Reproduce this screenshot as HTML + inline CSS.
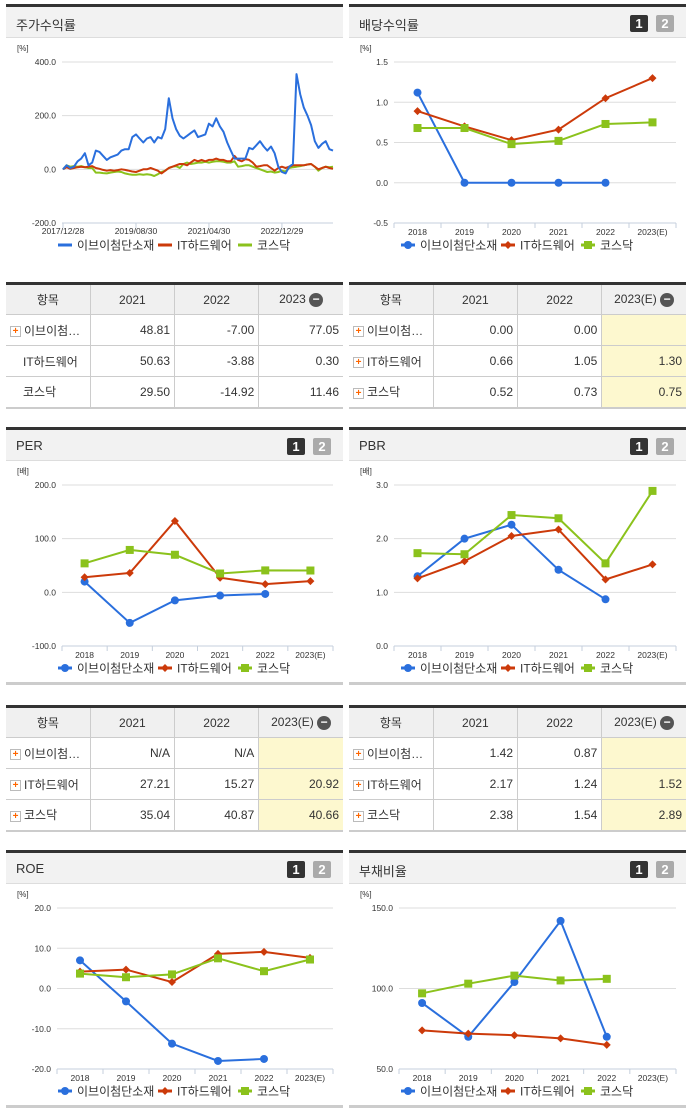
<!DOCTYPE html>
<html><head><meta charset="utf-8">
<style>
body{margin:0;background:#fff;width:691px;height:1115px;overflow:hidden;position:relative;font-family:"Liberation Sans","Noto Sans CJK KR",sans-serif;}
.panel{position:absolute;width:337px;height:262px;}
.phead{position:absolute;left:0;top:0;width:337px;height:30px;background:#f2f2f2;border-top:3px solid #333;border-bottom:1px solid #ddd;}
.ptitle{position:absolute;left:10px;top:8px;font-size:13px;color:#333;}
.btn{position:absolute;top:8px;width:18px;height:17px;color:#fff;font-weight:bold;font-size:13px;text-align:center;line-height:17px;border-radius:2px;}
.b1{right:38px;background:#333;}
.b2{right:12px;background:#aaa;}
.pbot{position:absolute;left:0;top:255px;width:337px;height:3px;background:#ccc;}
svg{position:absolute;left:0;top:0;}
table{position:absolute;width:337px;border-collapse:collapse;font-size:12px;color:#333;table-layout:fixed;border-top:3px solid #333;border-bottom:2px solid #ccc;}
th{background:#f0f0f0;font-weight:normal;height:31px;padding:0;border:1px solid #ccc;border-top:none;box-sizing:border-box;}
td{height:31px;padding:0 4px 0 0;border:1px solid #ccc;text-align:right;box-sizing:border-box;}
th:first-child,td:first-child{border-left:none;}
th:last-child,td:last-child{border-right:none;}
td.nm{text-align:left;padding-left:4px;}
td.y{background:#fdf8cf;}
.plus{display:inline-block;width:9px;height:9px;border:1px solid #bbb;background:#fff;color:#f60;font-size:10px;line-height:9px;text-align:center;font-weight:bold;vertical-align:middle;margin-right:3px;}
.minus{display:inline-block;width:14px;height:14px;border-radius:7px;background:#555;color:#fff;font-size:12px;line-height:13px;text-align:center;font-weight:bold;vertical-align:middle;}
</style></head><body>

<div class="panel" id="p1" style="left:6px;top:4px"><div class="phead"><span class="ptitle">주가수익률</span></div></div>
<div class="panel" id="p2" style="left:349px;top:4px"><div class="phead"><span class="ptitle">배당수익률</span><span class="btn b1">1</span><span class="btn b2">2</span></div></div>
<div class="panel" id="p3" style="left:6px;top:427px"><div class="phead"><span class="ptitle">PER</span><span class="btn b1">1</span><span class="btn b2">2</span></div><div class="pbot"></div></div>
<div class="panel" id="p4" style="left:349px;top:427px"><div class="phead"><span class="ptitle">PBR</span><span class="btn b1">1</span><span class="btn b2">2</span></div><div class="pbot"></div></div>
<div class="panel" id="p5" style="left:6px;top:850px"><div class="phead"><span class="ptitle">ROE</span><span class="btn b1">1</span><span class="btn b2">2</span></div><div class="pbot"></div></div>
<div class="panel" id="p6" style="left:349px;top:850px"><div class="phead"><span class="ptitle">부채비율</span><span class="btn b1">1</span><span class="btn b2">2</span></div><div class="pbot"></div></div>

<table style="left:6px;top:282px">
<tr><th>항목</th><th>2021</th><th>2022</th><th>2023 <span class="minus">−</span></th></tr>
<tr><td class="nm"><span class="plus">+</span>이브이첨…</td><td>48.81</td><td>-7.00</td><td>77.05</td></tr>
<tr><td class="nm" style="padding-left:17px">IT하드웨어</td><td>50.63</td><td>-3.88</td><td>0.30</td></tr>
<tr><td class="nm" style="padding-left:17px">코스닥</td><td>29.50</td><td>-14.92</td><td>11.46</td></tr>
</table>
<table style="left:349px;top:282px">
<tr><th>항목</th><th>2021</th><th>2022</th><th>2023(E) <span class="minus">−</span></th></tr>
<tr><td class="nm"><span class="plus">+</span>이브이첨…</td><td>0.00</td><td>0.00</td><td class="y"></td></tr>
<tr><td class="nm"><span class="plus">+</span>IT하드웨어</td><td>0.66</td><td>1.05</td><td class="y">1.30</td></tr>
<tr><td class="nm"><span class="plus">+</span>코스닥</td><td>0.52</td><td>0.73</td><td class="y">0.75</td></tr>
</table>
<table style="left:6px;top:705px">
<tr><th>항목</th><th>2021</th><th>2022</th><th>2023(E) <span class="minus">−</span></th></tr>
<tr><td class="nm"><span class="plus">+</span>이브이첨…</td><td>N/A</td><td>N/A</td><td class="y"></td></tr>
<tr><td class="nm"><span class="plus">+</span>IT하드웨어</td><td>27.21</td><td>15.27</td><td class="y">20.92</td></tr>
<tr><td class="nm"><span class="plus">+</span>코스닥</td><td>35.04</td><td>40.87</td><td class="y">40.66</td></tr>
</table>
<table style="left:349px;top:705px">
<tr><th>항목</th><th>2021</th><th>2022</th><th>2023(E) <span class="minus">−</span></th></tr>
<tr><td class="nm"><span class="plus">+</span>이브이첨…</td><td>1.42</td><td>0.87</td><td class="y"></td></tr>
<tr><td class="nm"><span class="plus">+</span>IT하드웨어</td><td>2.17</td><td>1.24</td><td class="y">1.52</td></tr>
<tr><td class="nm"><span class="plus">+</span>코스닥</td><td>2.38</td><td>1.54</td><td class="y">2.89</td></tr>
</table>

<script>
const NS="http://www.w3.org/2000/svg";
const seriesNames=["이브이첨단소재","IT하드웨어","코스닥"];
const colors=["#2a6fdd","#cc3a0a","#8bc21c"];
const years=["2018","2019","2020","2021","2022","2023(E)"];
// stock return (monthly)
const stockTickLabels=["2017/12/28","2019/08/30","2021/04/30","2022/12/29"];
const stockTickIdx=[0,20,40,60];
const stockTicks=[400,200,0,-200];
const stockBlue=[0,15,5,10,30,40,60,15,25,70,65,50,35,45,50,55,70,75,75,120,130,115,100,115,120,100,120,115,150,265,190,150,125,115,125,135,145,120,125,130,170,160,190,160,140,100,70,40,40,40,40,80,75,90,105,85,70,85,60,10,-10,-15,10,20,355,280,230,200,165,105,80,95,105,75,70];
const stockRed=[0,8,2,5,8,10,8,10,12,5,2,-2,-5,-3,-5,-3,0,-2,-5,-8,-10,-5,0,0,5,0,-5,-15,-5,5,10,15,20,20,15,25,35,30,35,30,35,35,40,35,35,30,30,50,35,30,38,35,25,10,12,15,15,5,-5,5,10,5,10,15,15,15,15,18,20,10,0,5,10,5,2];
const stockGreen=[0,15,10,12,10,12,8,5,5,-12,-12,-14,-15,-12,-10,-8,-10,-15,-18,-20,-20,-18,-20,-18,-20,-25,-18,-10,-5,5,10,12,5,20,25,20,22,25,25,28,25,28,30,30,28,25,25,30,10,12,15,15,10,5,0,-5,-10,-8,-12,-10,-5,-8,5,8,10,12,15,18,20,10,-5,5,10,8,10];
// dividend yield
const divTicks=[1.5,1.0,0.5,0.0,-0.5];
const divBlue=[1.12,0,0,0,0,null];
const divRed=[0.89,0.70,0.53,0.66,1.05,1.30];
const divGreen=[0.68,0.68,0.48,0.52,0.73,0.75];
// PER
const perTicks=[200,100,0,-100];
const perBlue=[20,-57,-15,-6,-3,null];
const perRed=[28,36,133,27.21,15.27,20.92];
const perGreen=[54,79,70,35.04,40.87,40.66];
// PBR
const pbrTicks=[3,2,1,0];
const pbrBlue=[1.3,2.0,2.26,1.42,0.87,null];
const pbrRed=[1.26,1.58,2.05,2.17,1.24,1.52];
const pbrGreen=[1.73,1.71,2.44,2.38,1.54,2.89];
// ROE
const roeTicks=[20,10,0,-10,-20];
const roeBlue=[7,-3.2,-13.7,-18,-17.5,null];
const roeRed=[4.2,4.7,1.6,8.6,9.1,7.6];
const roeGreen=[3.7,2.8,3.5,7.5,4.3,7.2];
// debt ratio
const debtTicks=[150,100,50];
const debtBlue=[91,70,104,142,70,null];
const debtRed=[74,72,71,69,65,null];
const debtGreen=[97,103,108,105,106,null];

function el(tag,attrs,parent){const e=document.createElementNS(NS,tag);for(const k in attrs)e.setAttribute(k,attrs[k]);if(parent)parent.appendChild(e);return e;}
const TOP=58,BOT=219;

function makeSvg(panelId,unit){
  const p=document.getElementById(panelId);
  const s=el("svg",{width:337,height:262});
  p.insertBefore(s,p.firstChild.nextSibling);
  const u=el("text",{x:11,y:47,"font-size":8,fill:"#333"},s);u.textContent=unit;
  
  
  return s;
}
function yAxis(s,ticks,left,right){
  const max=ticks[0],min=ticks[ticks.length-1];
  const ys=v=>TOP+(max-v)/(max-min)*(BOT-TOP);
  ticks.forEach((t,i)=>{
    const y=ys(t);
    const last=i===ticks.length-1;
    const ln=el("line",{x1:left,x2:right,y1:y,y2:y,stroke:last?"#c5cfdc":"#ddd","stroke-width":1},s);
    
    
    const tx=el("text",{x:left-6,y:y+3,"font-size":8.5,fill:"#333","text-anchor":"end"},s);
    tx.textContent=t.toFixed(1);
    
    
  });
  return ys;
}
function marker(s,k,x,y){
  let m;
  if(k===0)m=el("circle",{cx:x,cy:y,r:4,fill:colors[0]},s);
  else if(k===1)m=el("polygon",{points:`${x},${y-4} ${x+4},${y} ${x},${y+4} ${x-4},${y}`,fill:colors[1]},s);
  else m=el("rect",{x:x-4,y:y-4,width:8,height:8,fill:colors[2]},s);
  return m;
}
function legend(s){
  const cx=[52,152,232];
  seriesNames.forEach((n,k)=>{
    const x=cx[k];
    const l=el("line",{x1:x,x2:x+14,y1:241,y2:241,stroke:colors[k],"stroke-width":3},s);
    
    
    if(s.dataset.markers)marker(s,k,x+7,241);
    const t=el("text",{x:x+19,y:245.5,"font-size":12,fill:"#333"},s);
    t.textContent=n;
    
    
  });
}
function catChart(panelId,unit,ticks,left,series,seriesKeys){
  const s=makeSvg(panelId,unit);
  s.dataset.markers="1";
  const right=327;
  const ys=yAxis(s,ticks,left,right);
  const bw=(right-left)/years.length;
  const xs=i=>left+bw*(i+0.5);
  for(let i=0;i<=years.length;i++){
    const t=el("line",{x1:left+bw*i,x2:left+bw*i,y1:BOT,y2:BOT+5,stroke:"#c5cfdc"},s);
    
    
  }
  years.forEach((y,i)=>{
    const t=el("text",{x:xs(i),y:BOT+12,"font-size":8.5,fill:"#333","text-anchor":"middle"},s);
    t.textContent=y;
    
    
  });
  series.forEach((arr,k)=>{
    let d="";arr.forEach((v,i)=>{if(v===null)return;d+=(d?"L":"M")+xs(i)+","+ys(v);});
    const p=el("path",{d:d,fill:"none",stroke:colors[k],"stroke-width":2},s);
    
    
    arr.forEach((v,i)=>{if(v===null)return;const m=marker(s,k,xs(i),ys(v));
      
      });
  });
  legend(s);
}
// stock chart
(function(){
  const s=makeSvg("p1","[%]");
  const left=56,right=327;
  const ys=yAxis(s,stockTicks,left,right);
  const n=stockBlue.length;
  const xs=i=>left+1+i*(right-left-1)/(n-1);
  stockTickIdx.forEach((ix,j)=>{
    const t=el("line",{x1:xs(ix),x2:xs(ix),y1:BOT,y2:BOT+5,stroke:"#c5cfdc"},s);
    
    
    const tx=el("text",{x:xs(ix),y:BOT+11,"font-size":8.5,fill:"#333","text-anchor":"middle"},s);
    tx.textContent=stockTickLabels[j];
    
    
  });
  [[stockGreen,2,"kosdaq"],[stockRed,1,"it-hardware"],[stockBlue,0,"evchem"]].forEach(([arr,k,nm])=>{
    const d=arr.map((v,i)=>(i?"L":"M")+xs(i).toFixed(1)+","+ys(v).toFixed(1)).join("");
    const p=el("path",{d:d,fill:"none",stroke:colors[k],"stroke-width":2,"stroke-linejoin":"round"},s);
    
    
  });
  legend(s);
})();
const keys=["evchem","it-hardware","kosdaq"];
catChart("p2","[%]",divTicks,45,[divBlue,divRed,divGreen],keys);
catChart("p3","[배]",perTicks,56,[perBlue,perRed,perGreen],keys);
catChart("p4","[배]",pbrTicks,45,[pbrBlue,pbrRed,pbrGreen],keys);
catChart("p5","[%]",roeTicks,51,[roeBlue,roeRed,roeGreen],keys);
catChart("p6","[%]",debtTicks,50,[debtBlue,debtRed,debtGreen],keys);
</script>
</body></html>
